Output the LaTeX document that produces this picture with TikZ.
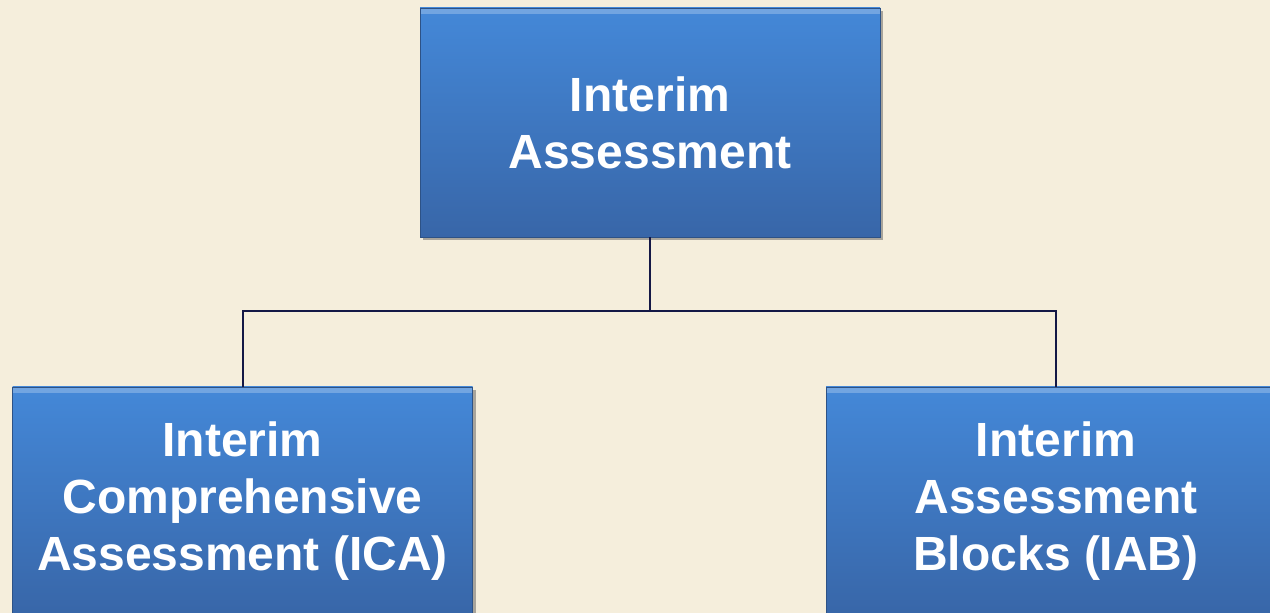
\documentclass[tikz,border=0pt]{standalone}
\usepackage{fontspec}
\setmainfont{Liberation Sans}
\usetikzlibrary{shadows}
\definecolor{paper}{RGB}{245,238,220}
\definecolor{boxtop}{RGB}{68,136,216}
\definecolor{boxbot}{RGB}{56,102,168}
\definecolor{wire}{RGB}{20,24,70}
\tikzset{
  blockbox/.style={rectangle, top color=boxtop, bottom color=boxbot,
    draw=boxbot!80!black, line width=0.4pt,
    drop shadow={shadow xshift=1.5pt, shadow yshift=-1.5pt, opacity=0.45, fill=black!70},
    path picture={\fill[white,opacity=0.25] (path picture bounding box.north west)
      rectangle ([yshift=-3pt]path picture bounding box.north east);},
    minimum width=230pt, minimum height=114.5pt, inner sep=0pt,
    align=center, text=white, font=\fontsize{24}{28.5}\selectfont\bfseries},
  wireline/.style={draw=wire, line width=1pt}
}
\begin{document}
\begin{tikzpicture}[x=0.5pt,y=-0.5pt]
% page and background
\fill[paper] (0,0) rectangle (1270,613);
\clip (0,0) rectangle (1270,613);
% the three boxes
\node[blockbox] (ia) at (650,122.5) {Interim\\Assessment};
\node[blockbox] (ica) at (242.5,501.5) {Interim\\Comprehensive\\Assessment (ICA)};
\node[blockbox] (iab) at (1056,501.5) {Interim\\Assessment\\Blocks (IAB)};
% connecting lines
\coordinate (bus) at (650,311);
\draw[wireline] (ia.south) -- (bus);
\draw[wireline] (ica.north) |- (bus) -| (iab.north);
\end{tikzpicture}
\end{document}
